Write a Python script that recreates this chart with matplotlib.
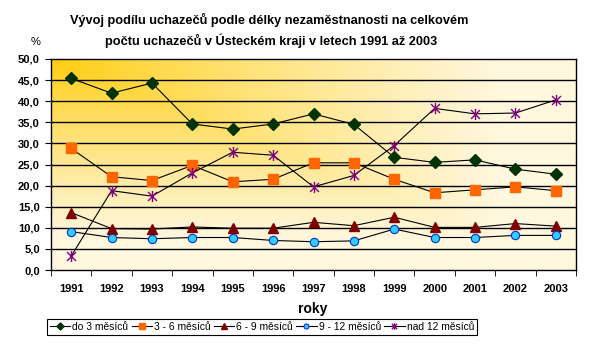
import matplotlib
matplotlib.use("Agg")
import matplotlib.pyplot as plt
import numpy as np
from matplotlib.path import Path
from matplotlib.ticker import FixedLocator, FuncFormatter

plt.rcParams['font.family'] = ['Liberation Sans', 'DejaVu Sans']

years = ['1991', '1992', '1993', '1994', '1995', '1996', '1997',
         '1998', '1999', '2000', '2001', '2002', '2003']

do3 = [45.4, 41.9, 44.3, 34.6, 33.4, 34.6, 37.0, 34.5, 26.7, 25.5, 26.1, 23.9, 22.7]
m3_6 = [28.8, 22.1, 21.2, 24.8, 20.9, 21.5, 25.4, 25.4, 21.5, 18.3, 19.0, 19.7, 18.8]
m6_9 = [13.6, 9.8, 9.7, 10.2, 9.9, 9.9, 11.3, 10.5, 12.5, 10.1, 10.1, 11.0, 10.4]
m9_12 = [9.1, 7.7, 7.4, 7.7, 7.7, 7.0, 6.7, 6.9, 9.7, 7.7, 7.7, 8.2, 8.2]
nad12 = [3.3, 18.8, 17.5, 23.0, 27.9, 27.2, 19.7, 22.4, 29.5, 38.3, 37.0, 37.2, 40.3]

labels = ['do 3 měsíců', '3 - 6 měsíců', '6 - 9 měsíců', '9 - 12 měsíců', 'nad 12 měsíců']

# asterisk marker like excel's star: x with a vertical bar
star = Path([(0, -1), (0, 1), (-0.8, -0.8), (0.8, 0.8), (-0.8, 0.8), (0.8, -0.8)],
            [Path.MOVETO, Path.LINETO, Path.MOVETO, Path.LINETO, Path.MOVETO, Path.LINETO])

fig = plt.figure(figsize=(6.02, 3.58), dpi=100)
ax = fig.add_axes([51 / 602, 1 - 270 / 358, 525 / 602, 211 / 358])

# background gradient from the top-left corner
gx, gy = np.meshgrid(np.linspace(0, 1, 300), np.linspace(0, 1, 200))
t = np.clip(np.maximum(gx, gy) / 0.85, 0, 1) ** 0.8
c0 = np.array([255, 204, 10]) / 255
c1 = np.array([255, 247, 222]) / 255
img = c0[None, None, :] * (1 - t[..., None]) + c1[None, None, :] * t[..., None]
ax.imshow(img, extent=[0, 1, 0, 1], transform=ax.transAxes, aspect='auto', zorder=0)

for v in range(5, 50, 5):
    ax.axhline(v, color='black', lw=1.0, zorder=1)

x = np.arange(len(years))
lw = 0.8
ax.plot(x, do3, color='black', lw=lw, marker='D', ms=6, mfc='#003300', mec='#003300', zorder=3, label=labels[0])
ax.plot(x, m3_6, color='black', lw=lw, marker='s', ms=7, mfc='#FF6600', mec='#FF6600', zorder=3, label=labels[1])
ax.plot(x, m6_9, color='black', lw=lw, marker='^', ms=7, mfc='#800000', mec='#800000', zorder=3, label=labels[2])
ax.plot(x, m9_12, color='black', lw=lw, marker='o', ms=6, mfc='#33CCFF', mec='#0033CC', mew=0.8, zorder=3, label=labels[3])
ax.plot(x, nad12, color='black', lw=lw, marker=star, ms=8, mfc='#800080', mec='#800080', mew=1.0, zorder=3, label=labels[4])

ax.set_xlim(-0.5, len(years) - 0.5)
ax.set_ylim(0, 50)
ax.set_yticks(np.arange(0, 51, 5))
ax.yaxis.set_major_formatter(FuncFormatter(lambda v, p: f'{v:.1f}'.replace('.', ',')))
ax.set_xticks(x)
ax.set_xticklabels(years)
ax.xaxis.set_minor_locator(FixedLocator(np.arange(-0.5, len(years), 1)))
ax.tick_params(axis='x', which='major', length=0, pad=10)
ax.tick_params(axis='x', which='minor', length=4, direction='out', color='black')
ax.tick_params(axis='y', length=4, direction='out', pad=4)
for lab in ax.get_xticklabels() + ax.get_yticklabels():
    lab.set_fontsize(8)
    lab.set_fontweight('bold')
for s in ax.spines.values():
    s.set_color('black')
    s.set_linewidth(1.0)

fig.text(269 / 602, 1 - 20 / 358, 'Vývoj podílu uchazečů podle délky nezaměstnanosti na celkovém',
         ha='center', va='center', fontsize=9.2, fontweight='bold')
fig.text(271 / 602, 1 - 41 / 358, 'počtu uchazečů v Ústeckém kraji v letech 1991 až 2003',
         ha='center', va='center', fontsize=9.2, fontweight='bold')
fig.text(36 / 602, 1 - 42 / 358, '%', ha='center', va='center', fontsize=8)
fig.text(313 / 602, 1 - 309 / 358, 'roky', ha='center', va='center', fontsize=10, fontweight='bold')

leg = fig.legend(loc='center', bbox_to_anchor=(262 / 602, 1 - 327 / 358), ncol=5, fontsize=7.4,
                 frameon=True, fancybox=False, edgecolor='black', framealpha=1,
                 handlelength=2.0, handletextpad=0.2, columnspacing=0.3, markerscale=0.6,
                 borderpad=0.25, borderaxespad=0)
leg.get_frame().set_linewidth(0.8)

fig.savefig('out.png', dpi=100)
